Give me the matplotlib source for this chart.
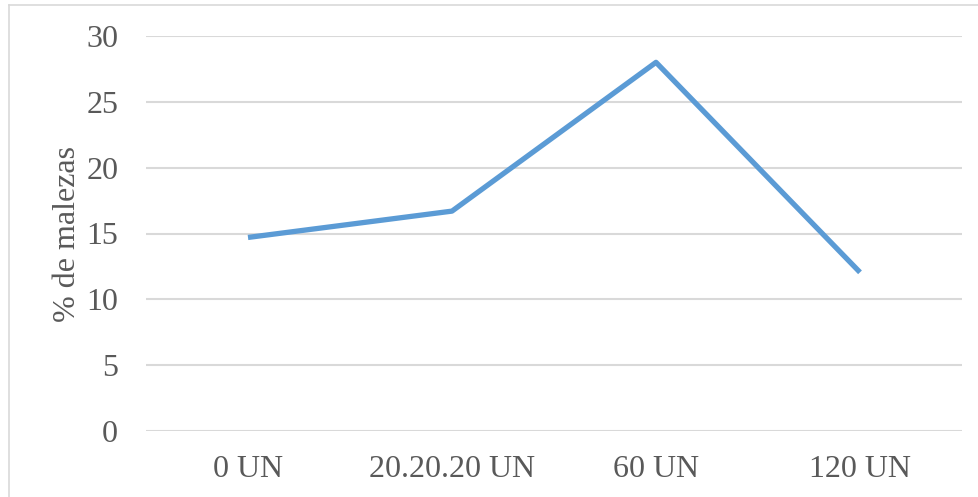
import matplotlib
matplotlib.use("Agg")
import matplotlib.pyplot as plt
from matplotlib.lines import Line2D

# dosis de nitrógeno y porcentaje de malezas
categorias = ["0 UN", "20.20.20 UN", "60 UN", "120 UN"]
malezas = [14.7, 16.7, 28.0, 12.05]
yticks = [0, 5, 10, 15, 20, 25, 30]

plt.rcParams["font.family"] = ["Liberation Serif", "DejaVu Serif"]
gris_texto = "#595959"
gris_linea = "#d9d9d9"

fig = plt.figure(figsize=(9.79, 4.97), dpi=100)
ax = fig.add_axes([146 / 979, 1 - 431 / 497, (962 - 146) / 979, (431 - 36) / 497])

x = range(len(categorias))
ax.plot(x, malezas, color="#5b9bd5", linewidth=3.8, solid_joinstyle="round",
        solid_capstyle="butt", zorder=3)

ax.set_xlim(-0.5, len(categorias) - 0.5)
ax.set_ylim(0, 30)
ax.set_yticks(yticks)
ax.set_xticks(list(x))
ax.set_xticklabels(categorias)
ax.grid(axis="y", color=gris_linea, linewidth=1.5)
ax.set_axisbelow(True)

for s in ax.spines.values():
    s.set_visible(False)
ax.tick_params(axis="both", length=0, labelsize=23, labelcolor=gris_texto)
ax.tick_params(axis="y", pad=20)
ax.tick_params(axis="x", pad=17)

ax.set_ylabel("% de malezas", fontsize=23, color=gris_texto)
ax.yaxis.set_label_coords(-0.079, 0.5)

# marco del gráfico (borde izquierdo y superior)
fig.add_artist(Line2D([9 / 979, 9 / 979], [0, 1 - 5 / 497], transform=fig.transFigure,
                      color=gris_linea, linewidth=1.2))
fig.add_artist(Line2D([9 / 979, 1], [1 - 5 / 497, 1 - 5 / 497], transform=fig.transFigure,
                      color=gris_linea, linewidth=1.2))

fig.savefig("out.png", dpi=100, facecolor="white")
